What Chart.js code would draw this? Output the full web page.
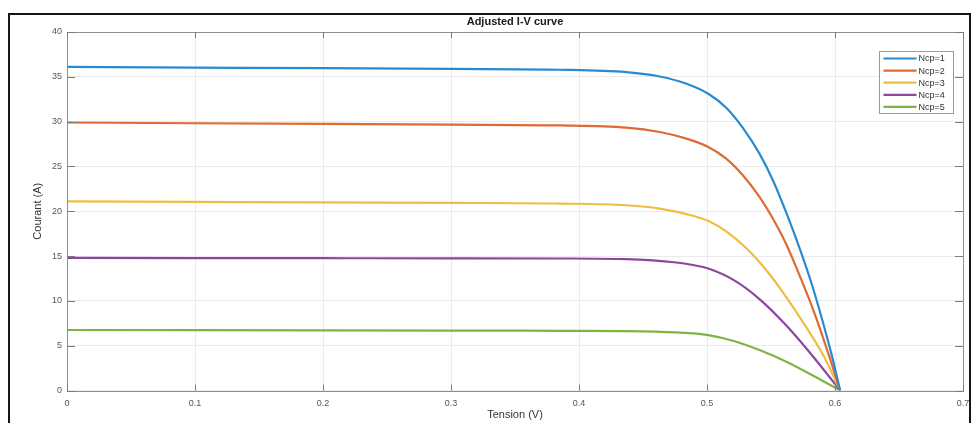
<!DOCTYPE html>
<html>
<head>
<meta charset="utf-8">
<script src="https://cdn.jsdelivr.net/npm/chart.js@4.4.1/dist/chart.umd.min.js"></script>
<style>
  html, body { margin: 0; padding: 0; background: #fff; }
  #wrap { position: relative; width: 973px; height: 423px; overflow: hidden; }
  #c { position: absolute; left: 0; top: 0; }
  #frame { position: absolute; left: 8px; top: 13px; width: 963px; height: 430px; border: 2px solid #151515; box-sizing: border-box; pointer-events: none; }
</style>
</head>
<body>
<div id="wrap">
  <canvas id="c" width="973" height="423"></canvas>
  <div id="frame"></div>
</div>
<script>
// ---- data ----
const seriesNames = ['Ncp=1', 'Ncp=2', 'Ncp=3', 'Ncp=4', 'Ncp=5'];

const vNcp1 = [0, 0.1, 0.2, 0.3, 0.385, 0.437, 0.463, 0.484, 0.501, 0.515, 0.528, 0.541, 0.552, 0.563, 0.573, 0.582, 0.590, 0.597, 0.604];
const iNcp1 = [36.1, 36.03, 35.96, 35.88, 35.79, 35.52, 35.04, 34.23, 33.11, 31.55, 29.3, 26.43, 23.3, 19.45, 15.6, 11.8, 7.9, 4.2, 0];

const vNcp2 = [0, 0.1, 0.2, 0.3, 0.385, 0.437, 0.463, 0.484, 0.501, 0.515, 0.528, 0.541, 0.551, 0.562, 0.573, 0.583, 0.593, 0.604];
const iNcp2 = [29.9, 29.82, 29.74, 29.66, 29.58, 29.33, 28.84, 28.1, 27.17, 25.87, 24.01, 21.6, 19.3, 16.3, 12.6, 9.0, 4.9, 0];

const vNcp3 = [0, 0.1, 0.2, 0.3, 0.385, 0.437, 0.463, 0.489, 0.502, 0.515, 0.531, 0.547, 0.562, 0.578, 0.591, 0.604];
const iNcp3 = [21.1, 21.04, 20.98, 20.93, 20.86, 20.67, 20.3, 19.5, 18.85, 17.75, 15.84, 13.3, 10.4, 6.95, 3.9, 0];

const vNcp4 = [0, 0.1, 0.2, 0.3, 0.385, 0.437, 0.476, 0.489, 0.501, 0.521, 0.541, 0.562, 0.583, 0.604];
const iNcp4 = [14.8, 14.78, 14.76, 14.75, 14.73, 14.65, 14.28, 14.0, 13.61, 12.31, 10.2, 7.25, 3.77, 0];

const vNcp5 = [0, 0.1, 0.2, 0.3, 0.385, 0.437, 0.476, 0.501, 0.521, 0.541, 0.562, 0.583, 0.604];
const iNcp5 = [6.75, 6.73, 6.71, 6.69, 6.66, 6.63, 6.48, 6.18, 5.52, 4.51, 3.21, 1.65, 0];

const xTickLabels = ['0', '0.1', '0.2', '0.3', '0.4', '0.5', '0.6', '0.7'];
const yTickLabels = ['0', '5', '10', '15', '20', '25', '30', '35', '40'];

const titleText = 'Adjusted I-V curve';
const xTitle = 'Tension (V)';
const yTitle = 'Courant (A)';

// ---- styles ----
const colors = ['#2a8ad0', '#de6a34', '#efbd42', '#8b479f', '#7fb443'];
const volts = [vNcp1, vNcp2, vNcp3, vNcp4, vNcp5];
const amps = [iNcp1, iNcp2, iNcp3, iNcp4, iNcp5];

const datasets = seriesNames.map((name, k) => ({
  label: name,
  data: volts[k].map((v, j) => ({ x: v, y: amps[k][j] })),
  borderColor: colors[k],
  backgroundColor: colors[k],
  borderWidth: 2.2,
  pointRadius: 0,
  fill: false,
  cubicInterpolationMode: 'monotone'
}));

const boxPlugin = {
  id: 'matlabBox',
  afterDatasetsDraw(chart) {
    const { ctx, chartArea: a, scales } = chart;
    ctx.save();
    ctx.strokeStyle = '#8f8f8f';
    ctx.lineWidth = 1;
    ctx.strokeRect(Math.round(a.left) + 0.5, Math.round(a.top) + 0.5, Math.round(a.right - a.left), Math.round(a.bottom - a.top));
    ctx.strokeStyle = '#7a7a7a';
    ctx.beginPath();
    scales.x.ticks.forEach(t => {
      const px = Math.round(scales.x.getPixelForValue(t.value)) + 0.5;
      ctx.moveTo(px, a.bottom); ctx.lineTo(px, a.bottom - 6);
      ctx.moveTo(px, a.top); ctx.lineTo(px, a.top + 6);
    });
    scales.y.ticks.forEach(t => {
      const py = Math.round(scales.y.getPixelForValue(t.value)) + 0.5;
      ctx.moveTo(a.left, py); ctx.lineTo(a.left + 8, py);
      ctx.moveTo(a.right, py); ctx.lineTo(a.right - 8, py);
    });
    ctx.stroke();
    ctx.restore();
  },
  afterDraw(chart) {
    const { ctx } = chart;
    // legend box (top-right inside axes)
    const bx = 879.5, by = 51.5, bw = 74, bh = 62;
    ctx.save();
    ctx.fillStyle = '#ffffff';
    ctx.fillRect(bx, by, bw, bh);
    ctx.strokeStyle = '#9a9a9a';
    ctx.lineWidth = 1;
    ctx.strokeRect(bx, by, bw, bh);
    ctx.font = '9px "Liberation Sans", Arial, sans-serif';
    ctx.textBaseline = 'middle';
    ctx.textAlign = 'left';
    chart.data.datasets.forEach((ds, k) => {
      const yy = by + 7 + k * 12.1;
      ctx.strokeStyle = ds.borderColor;
      ctx.lineWidth = 2.2;
      ctx.beginPath();
      ctx.moveTo(bx + 4, yy); ctx.lineTo(bx + 37, yy);
      ctx.stroke();
      ctx.fillStyle = '#333';
      ctx.fillText(ds.label, bx + 39, yy + 0.5);
    });
    ctx.restore();
  }
};

new Chart(document.getElementById('c'), {
  type: 'line',
  data: { datasets },
  plugins: [boxPlugin],
  options: {
    responsive: false,
    animation: false,
    devicePixelRatio: 1,
    layout: { padding: { left: 0, right: 10, top: 0, bottom: 0 } },
    plugins: {
      legend: { display: false },
      tooltip: { enabled: false },
      title: {
        display: true,
        text: titleText,
        fullSize: false,
        color: '#1a1a1a',
        font: { family: '"Liberation Sans", Arial, sans-serif', size: 11, weight: 'bold', lineHeight: 1.2 },
        padding: { top: 15.4, bottom: 3.4 }
      }
    },
    scales: {
      x: {
        type: 'linear',
        min: 0, max: 0.7,
        afterBuildTicks(scale) { scale.ticks = xTickLabels.map(s => ({ value: parseFloat(s) })); },
        afterFit(scale) { scale.height = 32.5; scale.paddingRight = 0; scale.paddingLeft = 0; },
        grid: { color: '#ebebeb', drawTicks: false, lineWidth: 1 },
        border: { display: false },
        ticks: {
          padding: 8,
          color: '#555',
          font: { family: '"Liberation Sans", Arial, sans-serif', size: 9 },
          maxRotation: 0,
          autoSkip: false,
          callback: (v, i) => xTickLabels[i]
        },
        title: {
          display: true, text: xTitle, color: '#333',
          font: { family: '"Liberation Sans", Arial, sans-serif', size: 11 },
          padding: { top: 0, bottom: 1 }
        }
      },
      y: {
        min: 0, max: 40,
        afterBuildTicks(scale) { scale.ticks = yTickLabels.map(s => ({ value: parseFloat(s) })); },
        afterFit(scale) { scale.width = 67; },
        grid: { color: '#ebebeb', drawTicks: false, lineWidth: 1 },
        border: { display: false },
        ticks: {
          padding: 5,
          color: '#555',
          font: { family: '"Liberation Sans", Arial, sans-serif', size: 9 },
          autoSkip: false,
          callback: (v, i) => yTickLabels[i]
        },
        title: {
          display: true, text: yTitle, color: '#333',
          font: { family: '"Liberation Sans", Arial, sans-serif', size: 11 },
          padding: { top: 31, bottom: 0 }
        }
      }
    }
  }
});
</script>
</body>
</html>
